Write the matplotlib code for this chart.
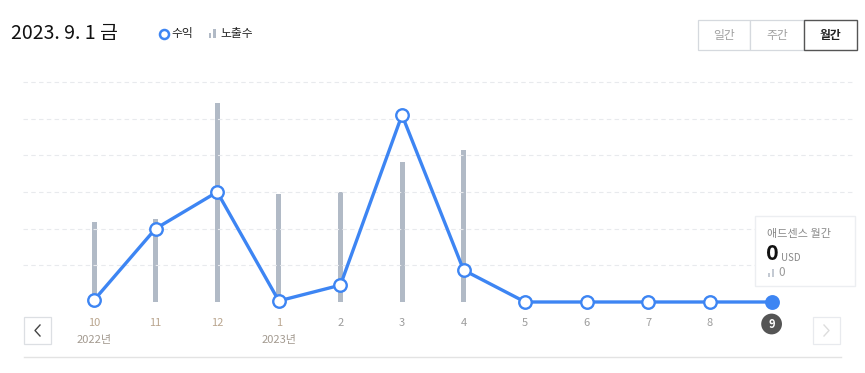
import matplotlib
matplotlib.use("Agg")
import matplotlib.pyplot as plt
from matplotlib.patches import Rectangle

plt.rcParams['font.family'] = ['Noto Sans CJK KR', 'DejaVu Sans']

# ---- data ----
months = ["10", "11", "12", "1", "2", "3", "4", "5", "6", "7", "8", "9"]
year_labels = {0: "2022년", 3: "2023년"}
revenue = [0.05, 2.0, 3.0, 0.03, 0.46, 5.1, 0.87, 0, 0, 0, 0, 0]
impressions = [80, 83, 199, 108, 110, 140, 152, 0, 0, 0, 0, 0]
legend_labels = ["수익", "노출수"]
title = "2023. 9. 1 금"
buttons = ["일간", "주간", "월간"]
tooltip_title = "애드센스 월간"
tooltip_value = "0"
tooltip_unit = "USD"
tooltip_imp = "0"

W, H = 865, 373
fig = plt.figure(figsize=(W / 100, H / 100), dpi=100)
fig.patch.set_facecolor("white")

BLUE = "#3d85f3"
BARC = "#b1bac6"

def fx(px):
    return px / W

def fy(py):
    return 1 - py / H

# main axes: pixel x 23..855, y 75..310
ax_l, ax_r, ax_t, ax_b = 23, 855, 75, 310
ax = fig.add_axes([fx(ax_l), fy(ax_b), (ax_r - ax_l) / W, (ax_b - ax_t) / H])
x0_px, dx_px = 94, 61.6
ax.set_xlim((ax_l - x0_px) / dx_px, (ax_r - x0_px) / dx_px)
unit = 36.67
base = 302
ax.set_ylim(-(ax_b - base) / unit, (base - ax_t) / unit)

ax2 = ax.twinx()
ax2.set_ylim(-(ax_b - base), (base - ax_t))
ax2.set_zorder(1)
ax.set_zorder(2)
ax.patch.set_visible(False)

xs = list(range(len(months)))
ax2.bar(xs, impressions, width=5 / dx_px, color=BARC, zorder=1)

for g in range(1, 7):
    ax.axhline(g, color="#e8eaed", lw=0.8, ls=(0, (4, 3)), zorder=0)

ax.plot(xs, revenue, color=BLUE, lw=2.4, zorder=3, solid_joinstyle="round")
ax.plot(xs[:-1], revenue[:-1], ls="none", marker="o", ms=9, mfc="white",
        mec=BLUE, mew=1.7, zorder=4, clip_on=False)
ax.plot(xs[-1:], revenue[-1:], ls="none", marker="o", ms=9, mfc=BLUE,
        mec=BLUE, mew=1.7, zorder=4, clip_on=False)

for a in (ax, ax2):
    for s in a.spines.values():
        s.set_visible(False)
    a.set_xticks([])
    a.set_yticks([])

# x tick labels
tan = "#b9a58e"
grey = "#9c9c9c"
for i, m in enumerate(months):
    px = x0_px + dx_px * i
    if i == len(months) - 1:
        fig.text(fx(px), fy(324), m, ha="center", va="center",
                 fontsize=8, color="white", fontweight="bold",
                 bbox=dict(boxstyle="circle,pad=0.35", fc="#555555", ec="none"))
    else:
        col = tan if i <= 3 else grey
        fig.text(fx(px), fy(323), m, ha="center", va="center", fontsize=8, color=col)
for i, lab in year_labels.items():
    px = x0_px + dx_px * i
    fig.text(fx(px), fy(340), lab, ha="center", va="center", fontsize=8, color="#a39a90")

# nav buttons
fig.patches.append(Rectangle((fx(24), fy(344)), 27 / W, 27 / H, transform=fig.transFigure,
                             fc="white", ec="#dcdfe3", lw=0.9))
fig.add_artist(plt.Line2D([fx(40), fx(35), fx(40)], [fy(325), fy(330.5), fy(336)],
                          color="#444444", lw=1.0))
fig.patches.append(Rectangle((fx(813), fy(344)), 27 / W, 27 / H, transform=fig.transFigure,
                             fc="white", ec="#e8eaee", lw=0.9))
fig.add_artist(plt.Line2D([fx(824), fx(829), fx(824)], [fy(325), fy(330.5), fy(336)],
                          color="#dddddd", lw=1.0))

# bottom rule
fig.add_artist(plt.Line2D([fx(24), fx(841)], [fy(357), fy(357)], color="#e3e3e3", lw=1))

# title
fig.text(fx(11), fy(33), title, ha="left", va="center", fontsize=14, color="#111111",
         fontweight="medium")

# legend
fig.add_artist(plt.Line2D([fx(163.5)], [fy(34)], marker="o", ms=6.5, mfc="white", mec=BLUE,
                          mew=1.8, ls="none"))
fig.text(fx(171), fy(33.5), legend_labels[0], ha="left", va="center", fontsize=8.5, color="#222222")
fig.patches.append(Rectangle((fx(208.5), fy(38)), 2.5 / W, 5 / H, transform=fig.transFigure,
                             fc=BARC, ec="none"))
fig.patches.append(Rectangle((fx(213), fy(38)), 2.5 / W, 9 / H, transform=fig.transFigure,
                             fc=BARC, ec="none"))
fig.text(fx(220), fy(33.5), legend_labels[1], ha="left", va="center", fontsize=8.5, color="#222222")

# period buttons
bx = [698, 750, 804, 857]
for i, b in enumerate(buttons):
    sel = i == 2
    fig.patches.append(Rectangle((fx(bx[i]), fy(50)), (bx[i + 1] - bx[i]) / W, 30 / H,
                                 transform=fig.transFigure, fc="white",
                                 ec="#555555" if sel else "#d5d9de", lw=1.0 if sel else 0.9,
                                 zorder=3 if sel else 2))
    fig.text(fx((bx[i] + bx[i + 1]) / 2), fy(35), b, ha="center", va="center", fontsize=8.5,
             color="#222222" if sel else "#a0a0a0", fontweight="bold" if sel else "normal",
             zorder=4)

# tooltip
fig.patches.append(Rectangle((fx(755), fy(286)), 100 / W, 70 / H, transform=fig.transFigure,
                             fc="white", ec="#eceef1", lw=1.0, zorder=5))
fig.text(fx(767), fy(234), tooltip_title, ha="left", va="center", fontsize=8, color="#8a8a8a", zorder=6)
fig.text(fx(766), fy(253), tooltip_value, ha="left", va="center", fontsize=15.5, color="#111111",
         fontweight="bold", zorder=6)
fig.text(fx(781), fy(258), tooltip_unit, ha="left", va="center", fontsize=7, color="#888888", zorder=6)
fig.patches.append(Rectangle((fx(768), fy(277)), 2 / W, 4 / H, transform=fig.transFigure,
                             fc="#c4cad3", ec="none", zorder=6))
fig.patches.append(Rectangle((fx(772), fy(277)), 2 / W, 8 / H, transform=fig.transFigure,
                             fc="#c4cad3", ec="none", zorder=6))
fig.text(fx(778), fy(273), tooltip_imp, ha="left", va="center", fontsize=8.5, color="#999999", zorder=6)

fig.savefig("out.png", dpi=100, facecolor="white")
